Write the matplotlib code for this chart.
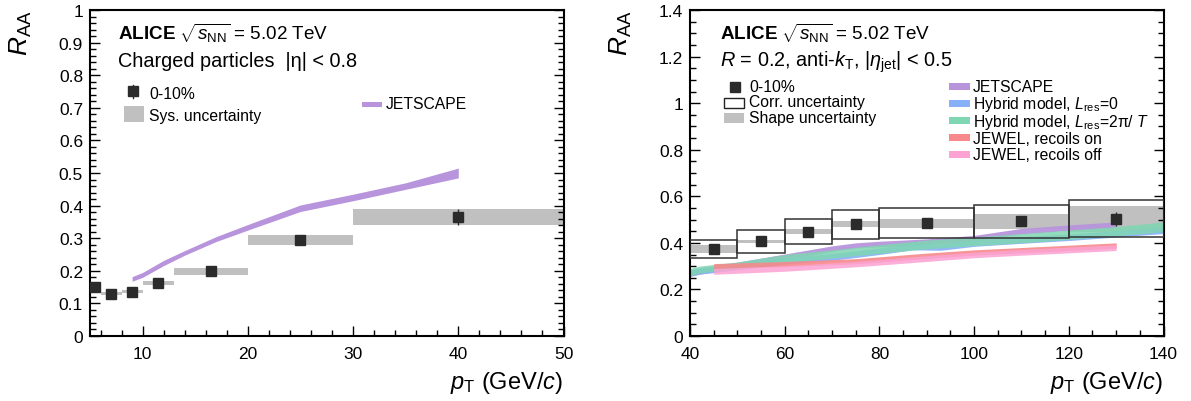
import matplotlib
matplotlib.use("Agg")
import matplotlib.pyplot as plt
import numpy as np
from matplotlib.patches import Rectangle
from matplotlib.lines import Line2D
from matplotlib.ticker import MultipleLocator, FuncFormatter

plt.rcParams['font.family'] = ['Liberation Sans', 'DejaVu Sans']
plt.rcParams['mathtext.fontset'] = 'custom'
plt.rcParams['mathtext.rm'] = 'Liberation Sans'
plt.rcParams['mathtext.it'] = 'Liberation Sans:italic'
plt.rcParams['mathtext.bf'] = 'Liberation Sans:bold'

# ---- left panel: charged particles ----
ch_pt = [5.5, 7, 9, 11.5, 16.5, 25, 40]
ch_lo = [5, 6, 8, 10, 13, 20, 30]
ch_hi = [6, 8, 10, 13, 20, 30, 50]
ch_raa = [0.150, 0.130, 0.136, 0.162, 0.198, 0.294, 0.365]
ch_stat = [0.002, 0.002, 0.002, 0.003, 0.004, 0.006, 0.025]
ch_sys = [0.005, 0.004, 0.005, 0.006, 0.011, 0.016, 0.024]

js_ch_pt = [9, 10, 12, 14, 17, 20, 25, 30, 35, 40]
js_ch_lo = [0.168, 0.180, 0.216, 0.248, 0.290, 0.325, 0.382, 0.415, 0.450, 0.485]
js_ch_hi = [0.182, 0.195, 0.232, 0.262, 0.305, 0.342, 0.402, 0.435, 0.470, 0.515]

# ---- right panel: R=0.2 jets ----
jet_pt = [45, 55, 65, 75, 90, 110, 130]
jet_lo = [40, 50, 60, 70, 80, 100, 120]
jet_hi = [50, 60, 70, 80, 100, 120, 140]
jet_raa = [0.374, 0.409, 0.447, 0.481, 0.486, 0.494, 0.503]
jet_stat = [0.004, 0.005, 0.006, 0.007, 0.008, 0.012, 0.030]
shape_lo = [0.357, 0.399, 0.436, 0.467, 0.463, 0.459, 0.446]
shape_hi = [0.391, 0.414, 0.460, 0.494, 0.504, 0.526, 0.560]
corr_lo = [0.336, 0.357, 0.393, 0.417, 0.420, 0.420, 0.426]
corr_hi = [0.413, 0.456, 0.503, 0.543, 0.550, 0.564, 0.583]

js_pt = [40, 50, 60, 70, 75, 80, 90, 100, 110, 120, 130]
js_lo = [0.258, 0.293, 0.328, 0.363, 0.378, 0.383, 0.393, 0.408, 0.438, 0.453, 0.466]
js_hi = [0.282, 0.317, 0.352, 0.387, 0.400, 0.407, 0.417, 0.432, 0.462, 0.477, 0.490]

hyb0_pt = [40, 42, 45, 50, 60, 70, 75, 80, 87, 93, 100, 110, 120, 130, 140]
hyb0_lo = [0.255, 0.266, 0.272, 0.285, 0.308, 0.325, 0.337, 0.350, 0.370, 0.368, 0.385, 0.398, 0.410, 0.425, 0.440]
hyb0_hi = [0.283, 0.294, 0.300, 0.313, 0.337, 0.355, 0.366, 0.378, 0.398, 0.396, 0.413, 0.426, 0.438, 0.452, 0.468]

hyb2_pt = [40, 42, 45, 50, 60, 70, 80, 90, 100, 110, 120, 130, 140]
hyb2_lo = [0.258, 0.270, 0.278, 0.290, 0.315, 0.335, 0.355, 0.375, 0.388, 0.400, 0.415, 0.430, 0.448]
hyb2_hi = [0.290, 0.300, 0.307, 0.318, 0.350, 0.370, 0.392, 0.412, 0.425, 0.440, 0.455, 0.470, 0.490]

jw_on_pt = [45, 60, 75, 90, 100, 110, 120, 130]
jw_on_lo = [0.288, 0.298, 0.310, 0.333, 0.347, 0.357, 0.367, 0.377]
jw_on_hi = [0.311, 0.320, 0.332, 0.356, 0.370, 0.380, 0.390, 0.400]

jw_off_pt = [45, 60, 75, 90, 100, 110, 120, 130]
jw_off_lo = [0.265, 0.278, 0.297, 0.320, 0.336, 0.347, 0.357, 0.367]
jw_off_hi = [0.290, 0.302, 0.320, 0.345, 0.360, 0.372, 0.382, 0.392]

W, H = 1191, 402
def fx(x):
    return x / W
def fy(y):
    return 1 - y / H

C_MARK = '#2b2b2b'
C_SYS = '#c0c0c0'
C_PURPLE = '#b794dc'
C_BLUE = '#86b0f7'
C_GREEN = '#7fd6b2'
C_RED = '#f7898a'
C_PINK = '#fca3d3'

LEG = 11.3

fig = plt.figure(figsize=(W / 100, H / 100), dpi=100)
axL = fig.add_axes([fx(90), fy(337), 473.5 / W, 326 / H])
axR = fig.add_axes([fx(690), fy(337), 473.5 / W, 326 / H])

# left panel
axL.bar(ch_pt, np.array(ch_sys) * 2, bottom=np.array(ch_raa) - np.array(ch_sys),
        width=np.array(ch_hi) - np.array(ch_lo), color=C_SYS, linewidth=0, zorder=1)
axL.fill_between(js_ch_pt, js_ch_lo, js_ch_hi, color=C_PURPLE, linewidth=0, zorder=2)
axL.errorbar(ch_pt, ch_raa, yerr=ch_stat, fmt='s', color=C_MARK, ms=7.5,
             elinewidth=1, capsize=0, zorder=5, clip_on=False)
axL.set_xlim(5, 50)
axL.set_ylim(0, 1)
axL.xaxis.set_major_locator(MultipleLocator(10))
axL.xaxis.set_minor_locator(MultipleLocator(2))
axL.yaxis.set_major_locator(MultipleLocator(0.1))
axL.yaxis.set_minor_locator(MultipleLocator(0.02))

# right panel
axR.bar(jet_pt, np.array(shape_hi) - np.array(shape_lo), bottom=shape_lo,
        width=np.array(jet_hi) - np.array(jet_lo), color=C_SYS, linewidth=0, zorder=1)
axR.fill_between(js_pt, js_lo, js_hi, color=C_PURPLE, alpha=0.95, linewidth=0, zorder=2)
axR.fill_between(hyb0_pt, hyb0_lo, hyb0_hi, color=C_BLUE, alpha=0.9, linewidth=0, zorder=2)
axR.fill_between(hyb2_pt, hyb2_lo, hyb2_hi, color=C_GREEN, alpha=0.85, linewidth=0, zorder=2)
axR.fill_between(jw_on_pt, jw_on_lo, jw_on_hi, color=C_RED, alpha=0.9, linewidth=0, zorder=2)
axR.fill_between(jw_off_pt, jw_off_lo, jw_off_hi, color=C_PINK, alpha=0.85, linewidth=0, zorder=2)
axR.bar(jet_pt, np.array(corr_hi) - np.array(corr_lo), bottom=corr_lo,
        width=np.array(jet_hi) - np.array(jet_lo), fill=False, edgecolor='#333333',
        linewidth=1.1, zorder=3)
axR.errorbar(jet_pt, jet_raa, yerr=jet_stat, fmt='s', color=C_MARK, ms=7.5,
             elinewidth=1, capsize=0, zorder=5)
axR.set_xlim(40, 140)
axR.set_ylim(0, 1.4)
axR.xaxis.set_major_locator(MultipleLocator(20))
axR.xaxis.set_minor_locator(MultipleLocator(5))
axR.yaxis.set_major_locator(MultipleLocator(0.2))
axR.yaxis.set_minor_locator(MultipleLocator(0.05))

fmt = FuncFormatter(lambda v, p: '%g' % round(v, 3))
for ax, right_px in [(axL, 563.5), (axR, 1163.5)]:
    ax.yaxis.set_major_formatter(fmt)
    ax.xaxis.set_major_formatter(fmt)
    ax.tick_params(which='both', direction='in', right=True, top=False, labelsize=12.5)
    ax.tick_params(which='major', length=7, width=1)
    ax.tick_params(which='minor', length=4, width=1)
    ax.tick_params(axis='x', pad=7)
    ax.tick_params(axis='y', pad=5)
    for s in ax.spines.values():
        s.set_linewidth(1.5)
    fig.text(fx(right_px), fy(389), r'$p_{\rm T}$ (GeV/$c$)', ha='right', va='baseline', fontsize=17)

fig.text(fx(21), fy(10), r'$R_{\rm AA}$', rotation=90, ha='center', va='top', fontsize=19)
fig.text(fx(621), fy(10), r'$R_{\rm AA}$', rotation=90, ha='center', va='top', fontsize=19)

# left panel labels
fig.text(fx(118), fy(40), r'$\mathbf{ALICE}$ $\sqrt{s_{\rm NN}}$ = 5.02 TeV', fontsize=13.6, va='baseline')
fig.text(fx(118), fy(67), 'Charged particles  |η| < 0.8', fontsize=14.3, va='baseline')
fig.add_artist(Line2D([fx(133.3)], [fy(92.3)], marker='s', ms=7.5, color=C_MARK,
                      transform=fig.transFigure))
fig.add_artist(Line2D([fx(133.3), fx(133.3)], [fy(86), fy(98.5)], lw=1, color=C_MARK,
                      transform=fig.transFigure))
fig.text(fx(149), fy(99), '0-10%', fontsize=LEG, va='baseline')
fig.add_artist(Rectangle((fx(124), fy(123)), 20 / W, 16 / H, color=C_SYS, linewidth=0,
                         transform=fig.transFigure))
fig.text(fx(149), fy(121), 'Sys. uncertainty', fontsize=LEG, va='baseline')
fig.add_artist(Rectangle((fx(362), fy(107.5)), 20 / W, 5 / H, color=C_PURPLE, linewidth=0,
                         transform=fig.transFigure))
fig.text(fx(386), fy(109), 'JETSCAPE', fontsize=LEG, va='baseline')

# right panel labels
fig.text(fx(720), fy(40), r'$\mathbf{ALICE}$ $\sqrt{s_{\rm NN}}$ = 5.02 TeV', fontsize=13.6, va='baseline')
fig.text(fx(720), fy(67), r'$R$ = 0.2, anti-$k_{\rm T}$, $|\eta_{\rm jet}|$ < 0.5', fontsize=14.3, va='baseline')
fig.add_artist(Line2D([fx(734.7)], [fy(88.3)], marker='s', ms=7.5, color=C_MARK,
                      transform=fig.transFigure))
fig.text(fx(749), fy(92), '0-10%', fontsize=LEG, va='baseline')
fig.add_artist(Rectangle((fx(724), fy(109)), 20 / W, 10.5 / H, fill=False, edgecolor='#222222',
                         linewidth=1, transform=fig.transFigure))
fig.text(fx(749), fy(107.5), 'Corr. uncertainty', fontsize=LEG, va='baseline')
fig.add_artist(Rectangle((fx(724), fy(124.3)), 20 / W, 10.3 / H, color=C_SYS, linewidth=0,
                         transform=fig.transFigure))
fig.text(fx(749), fy(122.5), 'Shape uncertainty', fontsize=LEG, va='baseline')

model_labels = ['JETSCAPE', r'Hybrid model, $L_{\rm res}$=0', r'Hybrid model, $L_{\rm res}$=2π/ $T$',
                'JEWEL, recoils on', 'JEWEL, recoils off']
model_colors = [C_PURPLE, C_BLUE, C_GREEN, C_RED, C_PINK]
for i, (lab, col) in enumerate(zip(model_labels, model_colors)):
    yc = 87.5 + i * 17
    fig.add_artist(Rectangle((fx(949), fy(yc + 3.3)), 21 / W, 6.6 / H, color=col, linewidth=0,
                             transform=fig.transFigure))
    fig.text(fx(973), fy(yc + 5), lab, fontsize=LEG, va='baseline')

fig.savefig('out.png', dpi=100)
